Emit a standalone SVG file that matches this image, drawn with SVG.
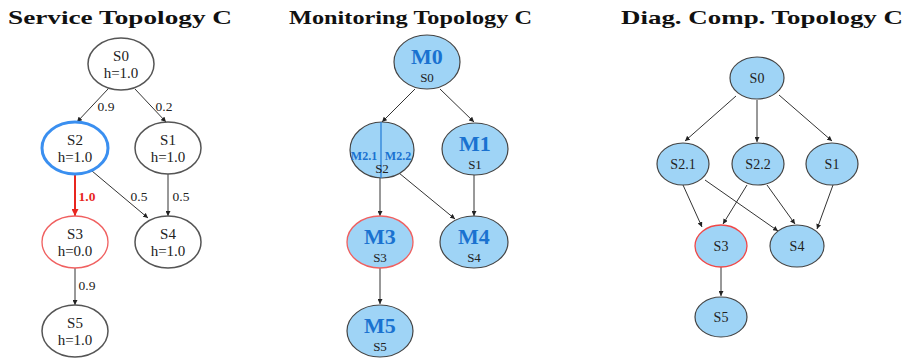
<svg xmlns="http://www.w3.org/2000/svg" width="907" height="358" viewBox="0 0 907 358">
<defs>
<marker id="ah" viewBox="0 0 10 10" refX="10" refY="5" markerWidth="5" markerHeight="5" orient="auto" markerUnits="userSpaceOnUse"><path d="M0,0 L10,5 L0,10 z" fill="#222"/></marker>
<marker id="ahr" viewBox="0 0 10 10" refX="10" refY="5" markerWidth="7" markerHeight="7" orient="auto" markerUnits="userSpaceOnUse"><path d="M0,0 L10,5 L0,10 z" fill="#e8261f"/></marker>
<style>
.title{font-family:"Liberation Serif","Times New Roman",serif;font-weight:bold;font-size:19.5px;fill:#111}
.sn{fill:#fff;stroke:#555;stroke-width:1.5}
.mn{fill:#9fd4f6;stroke:#444;stroke-width:1.2}
.t{font-family:"Liberation Serif","Times New Roman",serif;font-size:15px;fill:#222;text-anchor:middle}
.td{font-family:"Liberation Serif","Times New Roman",serif;font-size:14px;fill:#222;text-anchor:middle}
.ts{font-family:"Liberation Serif","Times New Roman",serif;font-size:13px;fill:#222;text-anchor:middle}
.lb{font-family:"Liberation Serif","Times New Roman",serif;font-size:13.5px;fill:#222;text-anchor:middle}
.mb{font-family:"Liberation Serif","Times New Roman",serif;font-weight:bold;font-size:22px;fill:#1a72d0;text-anchor:middle}
.mbs{font-family:"Liberation Serif","Times New Roman",serif;font-weight:bold;font-size:12px;fill:#1a72d0;text-anchor:middle}
.e{stroke:#333;stroke-width:1;fill:none;marker-end:url(#ah)}
</style>
</defs>
<text class="title" x="8" y="24" textLength="224" lengthAdjust="spacingAndGlyphs">Service Topology C</text>
<text class="title" x="289" y="24" textLength="243" lengthAdjust="spacingAndGlyphs">Monitoring Topology C</text>
<text class="title" x="621" y="24" textLength="282" lengthAdjust="spacingAndGlyphs">Diag. Comp. Topology C</text>

<g id="connectors">
<line class="e" x1="108" y1="89" x2="77" y2="122"/>
<line class="e" x1="135" y1="89" x2="166" y2="122"/>
<line x1="75" y1="175" x2="75" y2="216" stroke="#e8261f" stroke-width="2" marker-end="url(#ahr)"/>
<line class="e" x1="92" y1="171" x2="148" y2="218"/>
<line class="e" x1="168" y1="174" x2="168" y2="216"/>
<line class="e" x1="75" y1="268" x2="75" y2="305"/>
<text class="lb" x="106" y="111">0.9</text>
<text class="lb" x="164" y="111">0.2</text>
<text x="87" y="201" font-family="Liberation Serif,serif" font-weight="bold" font-size="13.5" fill="#e8261f" text-anchor="middle">1.0</text>
<text class="lb" x="139" y="201">0.5</text>
<text class="lb" x="181" y="201">0.5</text>
<text class="lb" x="87" y="290">0.9</text>

<line class="e" x1="415" y1="89" x2="382" y2="122"/>
<line class="e" x1="440" y1="89" x2="474" y2="122"/>
<line class="e" x1="380" y1="177" x2="380" y2="216"/>
<line class="e" x1="399" y1="173" x2="455" y2="219"/>
<line class="e" x1="474" y1="175" x2="474" y2="216"/>
<line class="e" x1="380" y1="268" x2="380" y2="304"/>

<line class="e" x1="736" y1="96" x2="685" y2="141"/>
<line class="e" x1="757" y1="100" x2="757" y2="142"/>
<line class="e" x1="779" y1="95" x2="832" y2="141"/>
<line class="e" x1="683" y1="185" x2="702" y2="227"/>
<line class="e" x1="705" y1="180" x2="778" y2="231"/>
<line class="e" x1="747" y1="185" x2="723" y2="224"/>
<line class="e" x1="767" y1="185" x2="795" y2="224"/>
<line class="e" x1="833" y1="185" x2="817" y2="229"/>
<line class="e" x1="721" y1="267" x2="721" y2="296"/>
</g>

<g id="svc-S0"><ellipse class="sn" cx="121" cy="64" rx="33" ry="26"/><text class="t" x="121" y="61">S0</text><text class="t" x="121" y="78">h=1.0</text></g>
<g id="svc-S2"><ellipse cx="75" cy="148" rx="33" ry="26" fill="#fff" stroke="#3a8ff0" stroke-width="3"/><text class="t" x="75" y="145">S2</text><text class="t" x="75" y="162">h=1.0</text></g>
<g id="svc-S1"><ellipse class="sn" cx="168" cy="148" rx="33" ry="26"/><text class="t" x="168" y="145">S1</text><text class="t" x="168" y="162">h=1.0</text></g>
<g id="svc-S3"><ellipse cx="75" cy="242" rx="33" ry="26" fill="#fff" stroke="#f06060" stroke-width="1.3"/><text class="t" x="75" y="239">S3</text><text class="t" x="75" y="256">h=0.0</text></g>
<g id="svc-S4"><ellipse class="sn" cx="168" cy="242" rx="33" ry="26"/><text class="t" x="168" y="239">S4</text><text class="t" x="168" y="256">h=1.0</text></g>
<g id="svc-S5"><ellipse class="sn" cx="75" cy="331" rx="33" ry="26"/><text class="t" x="75" y="328">S5</text><text class="t" x="75" y="345">h=1.0</text></g>

<g id="mon-M0"><ellipse class="mn" cx="427" cy="62" rx="33" ry="27"/><text class="mb" x="427" y="64">M0</text><text class="ts" x="427" y="82">S0</text></g>
<g id="mon-M2"><ellipse class="mn" cx="382" cy="150" rx="32" ry="28"/><line x1="381" y1="122" x2="381" y2="178" stroke="#2a80d8" stroke-width="1.3"/><text class="mbs" x="364" y="160">M2.1</text><text class="mbs" x="398" y="160">M2.2</text><text class="ts" x="382" y="173">S2</text></g>
<g id="mon-M1"><ellipse class="mn" cx="475" cy="149" rx="33" ry="26"/><text class="mb" x="475" y="151">M1</text><text class="ts" x="475" y="169">S1</text></g>
<g id="mon-M3"><ellipse cx="380" cy="242" rx="33" ry="26" fill="#9fd4f6" stroke="#f06060" stroke-width="1.3"/><text class="mb" x="380" y="244">M3</text><text class="ts" x="380" y="262">S3</text></g>
<g id="mon-M4"><ellipse class="mn" cx="474" cy="242" rx="34" ry="26"/><text class="mb" x="474" y="244">M4</text><text class="ts" x="474" y="262">S4</text></g>
<g id="mon-M5"><ellipse class="mn" cx="380" cy="331" rx="33" ry="26"/><text class="mb" x="380" y="333">M5</text><text class="ts" x="380" y="351">S5</text></g>

<g id="dc-S0"><ellipse class="mn" cx="757" cy="78" rx="27" ry="21"/><text class="td" x="757" y="83">S0</text></g>
<g id="dc-S21"><ellipse class="mn" cx="683" cy="164" rx="26" ry="21"/><text class="td" x="683" y="169">S2.1</text></g>
<g id="dc-S22"><ellipse class="mn" cx="758" cy="164" rx="26" ry="21"/><text class="td" x="758" y="169">S2.2</text></g>
<g id="dc-S1"><ellipse class="mn" cx="832" cy="164" rx="26" ry="21"/><text class="td" x="832" y="169">S1</text></g>
<g id="dc-S3"><ellipse cx="721" cy="246" rx="26" ry="21" fill="#9fd4f6" stroke="#f04848" stroke-width="1.3"/><text class="td" x="721" y="251">S3</text></g>
<g id="dc-S4"><ellipse class="mn" cx="797" cy="246" rx="27" ry="21"/><text class="td" x="797" y="251">S4</text></g>
<g id="dc-S5"><ellipse class="mn" cx="721" cy="317" rx="26" ry="20"/><text class="td" x="721" y="322">S5</text></g>
</svg>
